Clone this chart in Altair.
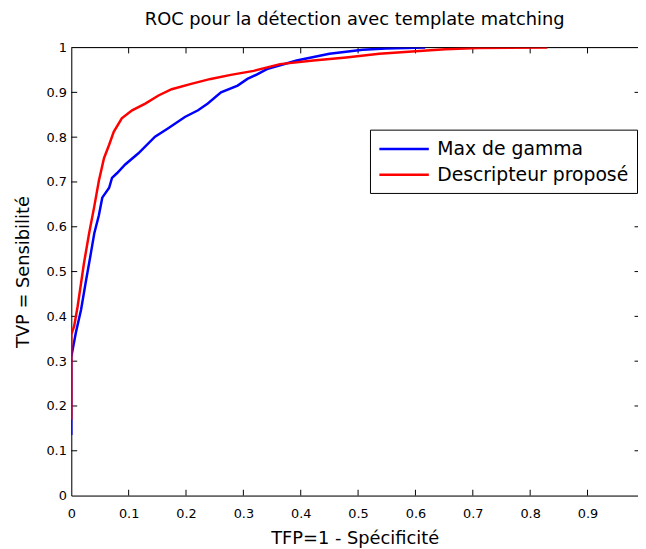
import altair as alt
import pandas as pd

# ---- data ----
blue_x = [0, 0, 0.003, 0.008, 0.017, 0.025, 0.034, 0.04, 0.048, 0.054, 0.066, 0.071, 0.080, 0.094,
          0.117, 0.146, 0.169, 0.198, 0.221, 0.238, 0.261, 0.29, 0.307, 0.324, 0.341, 0.393, 0.45,
          0.508, 0.548, 0.585, 0.617]
blue_y = [0.135, 0.31, 0.33, 0.364, 0.415, 0.475, 0.54, 0.585, 0.625, 0.665, 0.687, 0.709, 0.72, 0.739,
          0.764, 0.801, 0.82, 0.845, 0.86, 0.875, 0.90, 0.915, 0.93, 0.94, 0.952, 0.971, 0.986,
          0.995, 0.998, 0.999, 1.0]
red_x = [0, 0, 0.005, 0.011, 0.017, 0.022, 0.031, 0.04, 0.048, 0.057, 0.066, 0.074, 0.088, 0.106,
         0.129, 0.152, 0.175, 0.209, 0.243, 0.278, 0.318, 0.364, 0.422, 0.479, 0.537, 0.594, 0.652,
         0.709, 0.83]
red_y = [0.17, 0.36, 0.378, 0.422, 0.474, 0.518, 0.585, 0.645, 0.702, 0.753, 0.783, 0.812, 0.842, 0.86,
         0.875, 0.893, 0.907, 0.919, 0.93, 0.939, 0.948, 0.963, 0.971, 0.978, 0.986, 0.991, 0.996,
         0.999, 1.0]
series_names = ["Max de gamma", "Descripteur proposé"]
series_colors = ["#0000ff", "#ff0000"]
x_ticks = [0, 0.1, 0.2, 0.3, 0.4, 0.5, 0.6, 0.7, 0.8, 0.9]
y_ticks = [0, 0.1, 0.2, 0.3, 0.4, 0.5, 0.6, 0.7, 0.8, 0.9, 1]
XMAX = 0.988

rows = []
for i, (x, y) in enumerate(zip(blue_x, blue_y)):
    rows.append({"x": x, "y": y, "s": series_names[0], "o": i})
for i, (x, y) in enumerate(zip(red_x, red_y)):
    rows.append({"x": x, "y": y, "s": series_names[1], "o": i})
df = pd.DataFrame(rows)

FONT = "DejaVu Sans"
xs = alt.Scale(domain=[0, XMAX], nice=False, zero=False)
ys = alt.Scale(domain=[0, 1], nice=False, zero=False)

lines = alt.Chart(df).mark_line(strokeWidth=2.5, clip=True).encode(
    x=alt.X("x:Q", scale=xs, title="TFP=1 - Spécificité",
            axis=alt.Axis(values=x_ticks, format="~g", tickSize=0, grid=False, domainColor="black",
                          labelFont=FONT, labelFontSize=13, labelColor="black", labelPadding=12,
                          labelFlush=False, labelOverlap=False,
                          titleFont=FONT, titleFontSize=18, titleFontWeight="normal",
                          titleColor="black", titlePadding=9)),
    y=alt.Y("y:Q", scale=ys, title="TVP = Sensibilité",
            axis=alt.Axis(values=y_ticks, format="~g", tickSize=0, grid=False, domainColor="black",
                          labelFont=FONT, labelFontSize=13, labelColor="black", labelPadding=5,
                          labelFlush=False, labelOverlap=False,
                          titleFont=FONT, titleFontSize=18, titleFontWeight="normal",
                          titleColor="black", titlePadding=14)),
    color=alt.Color("s:N", scale=alt.Scale(domain=series_names, range=series_colors),
                    legend=alt.Legend(title=None, orient="none", legendX=302, legendY=83,
                                      strokeColor="black", fillColor="white", padding=8,
                                      cornerRadius=0, symbolType="M-1,0H4", symbolSize=400,
                                      symbolStrokeWidth=2.5, labelFont=FONT, labelFontSize=19,
                                      labelColor="black", labelOffset=37, rowPadding=4,
                                      labelLimit=400)),
    order="o:Q",
)

# inward ticks and top border
tick_rows = []
for v in x_ticks[1:]:
    tick_rows.append({"x": v, "x2": v, "y": 0, "y2": 0.013})
    tick_rows.append({"x": v, "x2": v, "y": 0.987, "y2": 1})
for v in y_ticks[1:-1]:
    tick_rows.append({"x": 0, "x2": 0.0103, "y": v, "y2": v})
    tick_rows.append({"x": XMAX - 0.006, "x2": XMAX, "y": v, "y2": v})
tick_rows.append({"x": 0, "x2": XMAX, "y": 1, "y2": 1})
tdf = pd.DataFrame(tick_rows)

ticks = alt.Chart(tdf).mark_rule(color="black", strokeWidth=1).encode(
    x=alt.X("x:Q", scale=xs), x2="x2:Q", y=alt.Y("y:Q", scale=ys), y2="y2:Q"
)

chart = alt.layer(ticks, lines).properties(
    width=573, height=453,
    title=alt.Title("ROC pour la détection avec template matching", font=FONT, fontSize=18,
                    fontWeight="normal", color="black", anchor="middle", offset=13),
    autosize=alt.AutoSizeParams(type="none"),
    padding={"left": 64, "top": 37, "right": 0, "bottom": 50},
).configure_view(stroke=None).configure(background="white")

chart.save("out.html", embed_options={"renderer": "svg", "actions": False})
